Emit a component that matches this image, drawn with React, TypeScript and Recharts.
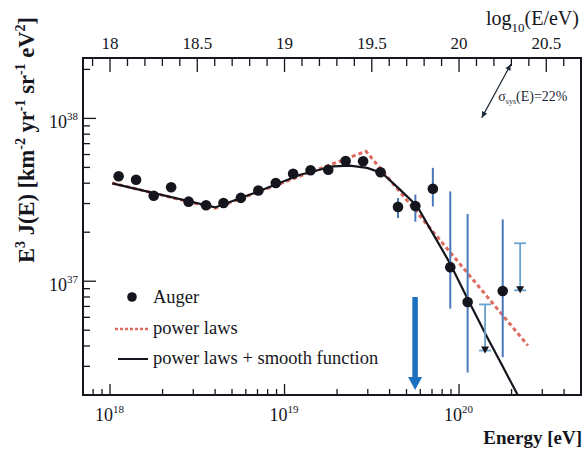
import React from 'react';
import {
  ComposedChart, Line, Scatter, ErrorBar, XAxis, YAxis,
  ReferenceArea, ReferenceLine, Legend,
} from 'recharts';

const FONT = '"Liberation Serif", "Times New Roman", serif';
const INK = '#15151d';
const RED = '#df6a5f';
const BAR = '#4a78b8';
const LIMIT = '#6aa3cf';

// Auger bins below the suppression (stat. errors hidden under the markers)
const augerEnergy = [1.12e18, 1.41e18, 1.78e18, 2.24e18, 2.82e18, 3.55e18, 4.47e18, 5.62e18,
  7.08e18, 8.91e18, 1.12e19, 1.41e19, 1.78e19, 2.24e19, 2.82e19, 3.55e19];
const augerFlux = [4.41e37, 4.20e37, 3.35e37, 3.78e37, 3.08e37, 2.93e37, 3.02e37, 3.25e37,
  3.61e37, 4.01e37, 4.57e37, 4.80e37, 4.84e37, 5.48e37, 5.45e37, 4.67e37];

// high energy bins with visible error bars
const tailEnergy = [4.47e19, 5.62e19, 7.08e19, 8.91e19, 1.12e20, 1.78e20];
const tailFlux = [2.86e37, 2.90e37, 3.70e37, 1.22e37, 7.45e36, 8.71e36];
const tailLow = [2.44e37, 2.32e37, 2.88e37, 6.78e36, 2.75e36, 3.41e36];
const tailHigh = [3.24e37, 3.40e37, 4.97e37, 3.56e37, 2.59e37, 2.40e37];

// upper limits
const limitEnergy = [1.41e20, 2.24e20];
const limitFlux = [3.75e36, 8.79e36];
const limitTop = [7.2e36, 1.71e37];

// broken power law fit
const powerEnergy = [1.03e18, 4.0e18, 2.93e19, 2.48e20];
const powerFlux = [4.01e37, 2.81e37, 6.28e37, 4.03e36];

// power laws + smooth suppression
const smoothEnergy = [1.03e18, 4.0e18, 7.24e18, 1.23e19, 1.90e19, 2.37e19, 2.97e19, 3.62e19,
  4.59e19, 5.74e19, 8.87e19, 1.13e20, 1.45e20, 1.79e20, 2.18e20];
const smoothFlux = [3.99e37, 2.84e37, 3.59e37, 4.51e37, 5.08e37, 5.13e37, 4.97e37, 4.62e37,
  3.65e37, 2.90e37, 1.29e37, 7.64e36, 4.53e36, 2.96e36, 1.98e36];

const bottomTicks = [7e17, 8e17, 9e17, 1e18, 2e18, 3e18, 4e18, 5e18, 6e18, 7e18, 8e18, 9e18,
  1e19, 2e19, 3e19, 4e19, 5e19, 6e19, 7e19, 8e19, 9e19, 1e20, 2e20, 3e20, 4e20, 5e20];
const bottomDecades = [1e18, 1e19, 1e20];
const bottomExp = ['18', '19', '20'];

const leftTicks = [2e36, 3e36, 4e36, 5e36, 6e36, 7e36, 8e36, 9e36,
  1e37, 2e37, 3e37, 4e37, 5e37, 6e37, 7e37, 8e37, 9e37, 1e38, 2e38];
const leftDecades = [1e37, 1e38];
const leftExp = ['37', '38'];

// top axis: log10(E/eV)
const topTicks = [17.9, 18, 18.1, 18.2, 18.3, 18.4, 18.5, 18.6, 18.7, 18.8, 18.9, 19, 19.1, 19.2,
  19.3, 19.4, 19.5, 19.6, 19.7, 19.8, 19.9, 20, 20.1, 20.2, 20.3, 20.4, 20.5, 20.6];
const topLabels = ['18', '18.5', '19', '19.5', '20', '20.5'];

const gzkEnergy = 5.6e19;
const gzkFrom = 8e36;
const gzkTo = 2.15e36;
const sysFrom = { x: 1.35e20, y: 1.01e38 };
const sysTo = { x: 1.98e20, y: 2.15e38 };

const points = augerEnergy.map((e, i) => ({ e, y: augerFlux[i] }));
const tail = tailEnergy.map((e, i) => ({
  e, y: tailFlux[i], err: [tailFlux[i] - tailLow[i], tailHigh[i] - tailFlux[i]],
}));
const limits = limitEnergy.map((e, i) => ({ e, y: limitFlux[i], err: [0, limitTop[i] - limitFlux[i]] }));
const powerLaw = powerEnergy.map((e, i) => ({ e, y: powerFlux[i] }));
const smooth = smoothEnergy.map((e, i) => ({ e, y: smoothFlux[i] }));
const topTickEnergy = topTicks.map((v) => Math.pow(10, v));

const BottomTick = ({ x, y, payload }: any) => {
  const k = bottomDecades.indexOf(payload.value);
  const major = k >= 0;
  return (
    <g>
      <line x1={x} x2={x} y1={y} y2={y - (major ? 11 : 6)} stroke={INK} strokeWidth={1.3} />
      {major && (
        <text x={x - 15} y={y + 26} fontFamily={FONT} fontSize={18} fill={INK}>
          10<tspan dy={-8} fontSize={11}>{bottomExp[k]}</tspan>
        </text>
      )}
    </g>
  );
};

const LeftTick = ({ x, y, payload }: any) => {
  const k = leftDecades.indexOf(payload.value);
  const major = k >= 0;
  return (
    <g>
      <line x1={x} x2={x + (major ? 13 : 7)} y1={y} y2={y} stroke={INK} strokeWidth={1.3} />
      {major && (
        <text x={x - 5} y={y + 10} textAnchor="end" fontFamily={FONT} fontSize={18} fill={INK}>
          10<tspan dy={-8} fontSize={11}>{leftExp[k]}</tspan>
        </text>
      )}
    </g>
  );
};

const TopTick = ({ x, y, payload }: any) => {
  const lg = Math.log10(payload.value);
  const lbl = topLabels.find((t) => Math.abs(parseFloat(t) - lg) < 1e-6);
  return (
    <g>
      <line x1={x} x2={x} y1={y} y2={y + (lbl ? 14 : 8)} stroke={INK} strokeWidth={1.3} />
      {lbl && (
        <text x={x} y={y - 9} textAnchor="middle" fontFamily={FONT} fontSize={17} fill={INK}>{lbl}</text>
      )}
    </g>
  );
};

const Dot = ({ cx, cy }: any) => <circle cx={cx} cy={cy} r={5.3} fill={INK} />;
const Down = ({ cx, cy }: any) => (
  <polygon points={`${cx - 4},${cy - 4} ${cx + 4},${cy - 4} ${cx},${cy + 3}`} fill={INK} />
);

const GzkArrow = ({ x1, y1, x2, y2 }: any) => (
  <g>
    <line x1={x1} x2={x2} y1={y1} y2={y2 - 12} stroke="#1d6fbf" strokeWidth={5.5} />
    <polygon points={`${x2 - 7},${y2 - 13} ${x2 + 7},${y2 - 13} ${x2},${y2}`} fill="#1d6fbf" />
  </g>
);

const SysArrow = ({ x1, y1, x2, y2 }: any) => {
  const a = Math.atan2(y2 - y1, x2 - x1);
  const head = (px: number, py: number, dir: number) => {
    const ang = a + dir;
    const bx = px - Math.cos(ang) * 6;
    const by = py - Math.sin(ang) * 6;
    const nx = -Math.sin(ang) * 2.8;
    const ny = Math.cos(ang) * 2.8;
    return `${px},${py} ${bx + nx},${by + ny} ${bx - nx},${by - ny}`;
  };
  const mx = (x1 + x2) / 2;
  const my = (y1 + y2) / 2;
  return (
    <g>
      <line x1={x1} y1={y1} x2={x2} y2={y2} stroke="#1e2a38" strokeWidth={1.3} />
      <polygon points={head(x2, y2, 0)} fill="#1e2a38" />
      <polygon points={head(x1, y1, Math.PI)} fill="#1e2a38" />
      <text x={mx + 2} y={my + 10} fontFamily={FONT} fontSize={14} fill="#1e2a38">
        σ<tspan dy={3} fontSize={8}>sys</tspan><tspan dy={-3}>(E)=22%</tspan>
      </text>
    </g>
  );
};

const LegendBox = () => (
  <svg width={300} height={90} style={{ overflow: 'visible', display: 'block' }}>
    <circle cx={22} cy={14} r={4.8} fill={INK} />
    <text x={43} y={20} fontFamily={FONT} fontSize={18.5} fill={INK}>Auger</text>
    <line x1={5} x2={38} y1={46} y2={46} stroke={RED} strokeWidth={2.5} strokeDasharray="3 2" />
    <text x={43} y={51} fontFamily={FONT} fontSize={18.5} fill={INK}>power laws</text>
    <line x1={8} x2={38} y1={76} y2={76} stroke={INK} strokeWidth={2} />
    <text x={43} y={81} fontFamily={FONT} fontSize={18.5} fill={INK}>power laws + smooth function</text>
  </svg>
);

export default function App() {
  return (
    <div style={{ position: 'absolute', left: 0, top: 0, width: 584, height: 455, background: '#fff' }}>
      <ComposedChart width={584} height={455} margin={{ top: 0, right: 3, bottom: 0, left: 0 }}>
        <XAxis dataKey="e" type="number" scale="log" domain={[7e17, 5e20]} allowDataOverflow
          ticks={bottomTicks} interval={0} tick={<BottomTick />} tickLine={false} axisLine={false}
          tickSize={0} tickMargin={0} height={60} />
        <XAxis xAxisId="top" dataKey="e" orientation="top" type="number" scale="log" domain={[7e17, 5e20]}
          allowDataOverflow ticks={topTickEnergy} interval={0} tick={<TopTick />} tickLine={false}
          axisLine={false} tickSize={0} tickMargin={0} height={58} />
        <YAxis type="number" scale="log" domain={[2e36, 2.35e38]} allowDataOverflow
          ticks={leftTicks} interval={0} tick={<LeftTick />} tickLine={false} axisLine={false}
          tickSize={0} tickMargin={0} width={83} />

        <ReferenceArea x1={7e17} x2={5e20} y1={2e36} y2={2.35e38} fill="none" fillOpacity={0}
          stroke={INK} strokeWidth={2} />

        {/* the broken power law sits on the top axis, which shares the bottom axis' scale */}
        <Line xAxisId="top" data={powerLaw} dataKey="y" stroke={RED} strokeWidth={3} strokeDasharray="4 3"
          dot={false} isAnimationActive={false} />
        <Line data={smooth} dataKey="y" stroke={INK} strokeWidth={2.2}
          dot={false} isAnimationActive={false} />

        <Scatter data={points} dataKey="y" shape={<Dot />} isAnimationActive={false} />
        <Scatter data={tail} dataKey="y" shape={<Dot />} isAnimationActive={false}>
          <ErrorBar dataKey="err" direction="y" width={0} stroke={BAR} strokeWidth={2} />
        </Scatter>
        <Scatter data={limits} dataKey="y" shape={<Down />} isAnimationActive={false}>
          <ErrorBar dataKey="err" direction="y" width={6} stroke={LIMIT} strokeWidth={1.8} />
        </Scatter>

        <ReferenceLine segment={[{ x: gzkEnergy, y: gzkFrom }, { x: gzkEnergy, y: gzkTo }]}
          shape={(p: any) => <GzkArrow {...p} />} />
        <ReferenceLine segment={[sysFrom, sysTo]} shape={(p: any) => <SysArrow {...p} />} />

        <Legend layout="vertical" align="center" verticalAlign="middle" content={<LegendBox />}
          wrapperStyle={{ left: 110, top: 283, width: 300, height: 90 }} />
      </ComposedChart>

      <svg width={584} height={455} style={{ position: 'absolute', left: 0, top: 0, pointerEvents: 'none' }}>
        <text transform="translate(34,140) rotate(-90)" textAnchor="middle" fontFamily={FONT}
          fontWeight="bold" fontSize={22.5} fill={INK}>
          E<tspan dy={-9} fontSize={14}>3</tspan>
          <tspan dy={9}> J(E) [km</tspan><tspan dy={-9} fontSize={14}>-2</tspan>
          <tspan dy={9}> yr</tspan><tspan dy={-9} fontSize={14}>-1</tspan>
          <tspan dy={9}> sr</tspan><tspan dy={-9} fontSize={14}>-1</tspan>
          <tspan dy={9}> eV</tspan><tspan dy={-9} fontSize={14}>2</tspan>
          <tspan dy={9}>]</tspan>
        </text>
        <text x={582} y={444} textAnchor="end" fontFamily={FONT} fontWeight="bold" fontSize={19} fill={INK}>
          Energy [eV]
        </text>
        <text x={486} y={25} fontFamily={FONT} fontSize={20} fill={INK}>
          log<tspan dy={7} fontSize={13}>10</tspan><tspan dy={-7}>(E/eV)</tspan>
        </text>
      </svg>
    </div>
  );
}
